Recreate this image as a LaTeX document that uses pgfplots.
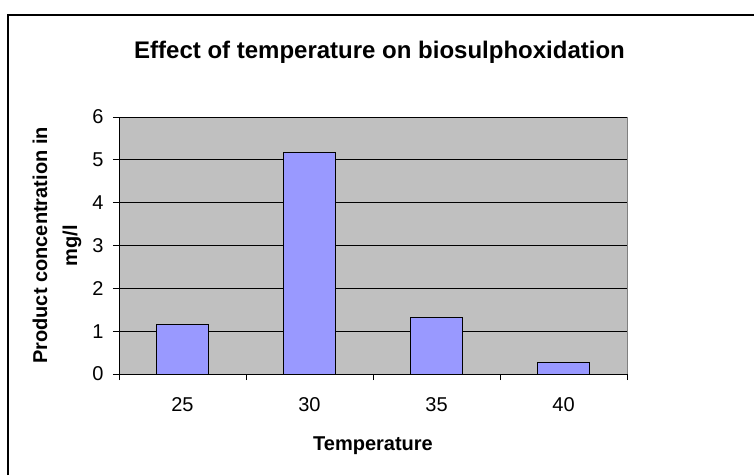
\documentclass[border=0pt]{standalone}
\usepackage{pgfplots}
\pgfplotsset{compat=1.18}
\usepackage{fontspec}
\setmainfont{Liberation Sans}
\definecolor{plotbg}{HTML}{C0C0C0}
\definecolor{barfill}{HTML}{9999FF}
\begin{document}
\begin{tikzpicture}[x=1pt,y=1pt]
\useasboundingbox (0,0) rectangle (754,475);
\draw[black,line width=1.3pt] (8,0) -- (8,460) -- (754,460);
\node[anchor=base west,font=\bfseries\fontsize{24}{30}\selectfont,inner sep=0pt] at (134,416) {Effect of temperature on biosulphoxidation};
\begin{axis}[
  at={(119pt,101pt)}, anchor=south west,
  scale only axis, width=508pt, height=257pt,
  xmin=-0.5, xmax=3.5, ymin=0, ymax=6,
  axis x line*=bottom, axis y line*=left,
  axis line style={black, line width=0.9pt},
  axis background/.style={fill=plotbg},
  xtick={0,1,2,3}, xticklabels={25,30,35,40},
  major x tick style={draw=none},
  minor xtick={-0.5,0.5,1.5,2.5,3.5},
  minor x tick style={black, line width=0.9pt},
  ytick={0,1,2,3,4,5,6},
  y tick style={black, line width=0.9pt},
  tick align=outside,
  major tick length=6pt, minor tick length=6pt,
  ymajorgrids, major y grid style={black, line width=0.9pt},
  /pgf/number format/assume math mode=true,
  ticklabel style={font=\fontsize{20}{24}\selectfont},
  xticklabel style={yshift=-14pt},
  yticklabel style={xshift=-6pt},
  xlabel={Temperature},
  xlabel style={font=\bfseries\fontsize{20}{24}\selectfont, yshift=-18pt},
  ylabel={Product concentration in\\mg/l},
  ylabel style={align=center, font=\bfseries\fontsize{20}{30}\selectfont, yshift=4pt},
  clip=false,
]
\addplot[ybar, bar width=52pt, fill=barfill, draw=black, line width=0.9pt] coordinates {(0,1.16) (1,5.18) (2,1.32) (3,0.27)};
\draw[gray, line width=0.8pt] (rel axis cs:1,0) -- (rel axis cs:1,1);
\end{axis}
\end{tikzpicture}
\end{document}
